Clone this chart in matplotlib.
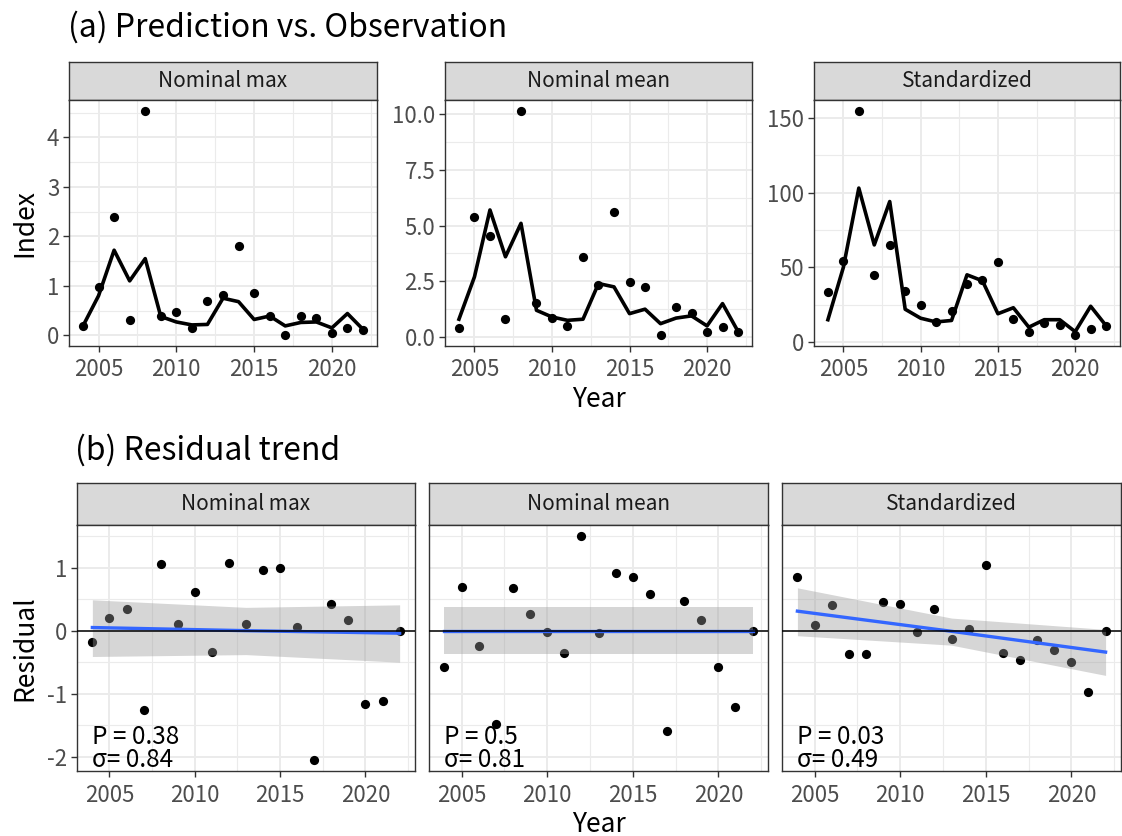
import numpy as np
import matplotlib.pyplot as plt
from matplotlib.ticker import MultipleLocator

plt.rcParams['font.family'] = ['Noto Sans CJK JP', 'DejaVu Sans']
plt.rcParams['axes.unicode_minus'] = False

# Data
years = [2004, 2005, 2006, 2007, 2008, 2009, 2010, 2011, 2012, 2013,
         2014, 2015, 2016, 2017, 2018, 2019, 2020, 2021, 2022]
panels = ["Nominal max", "Nominal mean", "Standardized"]

obs_max = [0.19, 0.97, 2.40, 0.30, 4.53, 0.39, 0.48, 0.15, 0.70, 0.81,
           1.80, 0.85, 0.40, 0.01, 0.40, 0.34, 0.04, 0.14, 0.11]
pred_max = [0.19, 0.80, 1.72, 1.10, 1.55, 0.38, 0.27, 0.21, 0.22, 0.75,
            0.68, 0.32, 0.39, 0.19, 0.26, 0.27, 0.15, 0.44, 0.12]
obs_mean = [0.40, 5.37, 4.51, 0.81, 10.13, 1.52, 0.85, 0.48, 3.57, 2.34,
            5.61, 2.45, 2.24, 0.10, 1.37, 1.07, 0.24, 0.43, 0.21]
pred_mean = [0.80, 2.70, 5.70, 3.60, 5.10, 1.20, 0.90, 0.75, 0.80, 2.40,
             2.25, 1.05, 1.25, 0.60, 0.85, 0.95, 0.50, 1.50, 0.25]
obs_std = [33.6, 54.0, 154.4, 44.9, 65.0, 34.4, 24.7, 13.6, 20.7, 39.1,
           41.8, 53.6, 15.8, 6.7, 12.9, 11.6, 4.9, 9.1, 11.1]
pred_std = [15, 50, 103, 65, 94, 22, 16, 13.5, 14.5, 45,
            41, 19, 23, 10, 15, 15, 7, 24, 11]

resid_max = [-0.18, 0.20, 0.34, -1.26, 1.06, 0.10, 0.61, -0.34, 1.07, 0.10,
             0.97, 1.00, 0.06, -2.05, 0.42, 0.17, -1.17, -1.11, 0.0]
resid_mean = [-0.57, 0.69, -0.24, -1.48, 0.67, 0.26, -0.02, -0.35, 1.50, -0.04,
              0.91, 0.85, 0.58, -1.60, 0.47, 0.17, -0.58, -1.21, 0.0]
resid_std = [0.85, 0.09, 0.40, -0.37, -0.37, 0.46, 0.43, -0.02, 0.34, -0.13,
             0.03, 1.05, -0.36, -0.46, -0.15, -0.30, -0.49, -0.98, 0.0]

# linear trend and its confidence band at start / middle / end year
trend_years = [2004, 2013, 2022]
trend_fit = [[0.05, 0.0, -0.04], [0.0, 0.0, 0.0], [0.31, -0.01, -0.34]]
band_lo = [[-0.41, -0.38, -0.50], [-0.37, -0.37, -0.37], [-0.08, -0.23, -0.71]]
band_hi = [[0.49, 0.37, 0.41], [0.37, 0.37, 0.37], [0.68, 0.20, 0.02]]
p_values = ["0.38", "0.5", "0.03"]
sigmas = ["0.84", "0.81", "0.49"]

observed = [obs_max, obs_mean, obs_std]
predicted = [pred_max, pred_mean, pred_std]
residuals = [resid_max, resid_mean, resid_std]
y_major = [1, 2.5, 50]

W, H = 1122, 836
fig = plt.figure(figsize=(W / 100, H / 100), dpi=100)


def px_axes(left, top, right, bottom):
    return fig.add_axes([left / W, 1 - bottom / H, (right - left) / W, (bottom - top) / H])


def style(ax, major_y):
    ax.set_facecolor('white')
    for s in ax.spines.values():
        s.set_color('#333333')
        s.set_linewidth(1.0)
    ax.set_xlim(2003.1, 2022.9)
    ax.xaxis.set_major_locator(MultipleLocator(5))
    ax.xaxis.set_minor_locator(MultipleLocator(2.5))
    ax.yaxis.set_major_locator(MultipleLocator(major_y))
    ax.yaxis.set_minor_locator(MultipleLocator(major_y / 2))
    ax.grid(which='major', color='#EBEBEB', linewidth=1.4, zorder=0)
    ax.grid(which='minor', color='#EBEBEB', linewidth=0.8, zorder=0)
    ax.set_axisbelow(True)
    ax.tick_params(which='major', length=4, width=1, color='#333333',
                   labelcolor='#4D4D4D', labelsize=16, pad=3)
    ax.tick_params(axis='x', which='major', pad=5)
    ax.tick_params(which='minor', length=0)


def strip(left, top, right, bottom, label):
    s = px_axes(left, top, right, bottom)
    s.set_facecolor('#D9D9D9')
    s.set_xticks([])
    s.set_yticks([])
    for sp in s.spines.values():
        sp.set_color('#333333')
        sp.set_linewidth(1.0)
    s.text(0.5, 0.5, label, ha='center', va='center', fontsize=15, color='#1A1A1A',
           transform=s.transAxes)


# (a) Prediction vs. Observation
top_x = [(69, 377), (445, 752), (814, 1120)]
for i, (l, r) in enumerate(top_x):
    strip(l, 62, r, 100, panels[i])
    ax = px_axes(l, 100, r, 346)
    style(ax, y_major[i])
    ax.plot(years, predicted[i], color='black', linewidth=2.6, zorder=3)
    ax.scatter(years, observed[i], s=44, color='black', zorder=4, linewidths=0)
    lo, hi = min(observed[i] + predicted[i]), max(observed[i] + predicted[i])
    pad = (hi - lo) * 0.05
    ax.set_ylim(lo - pad, hi + pad)
    if i == 0:
        ax.set_ylabel("Index", fontsize=19, labelpad=6)
    if i == 1:
        ax.set_xlabel("Year", fontsize=19, labelpad=3)

fig.text(68 / W, 1 - 27 / H, "(a) Prediction vs. Observation", fontsize=23,
         ha='left', va='center')

# (b) Residual trend
bot_x = [(77, 415), (429, 768), (782, 1121)]
allres = resid_max + resid_mean + resid_std
rlo, rhi = min(allres), max(allres)
rpad = (rhi - rlo) * 0.05
for i, (l, r) in enumerate(bot_x):
    strip(l, 483, r, 525, panels[i])
    ax = px_axes(l, 525, r, 771)
    style(ax, 1)
    ax.set_ylim(rlo - rpad, rhi + rpad)
    ax.scatter(years, residuals[i], s=44, color='black', zorder=2, linewidths=0)
    ax.fill_between(trend_years, band_lo[i], band_hi[i], color='#999999',
                    alpha=0.4, linewidth=0, zorder=3)
    ax.plot(trend_years, trend_fit[i], color='#3366FF', linewidth=2.4, zorder=4)
    ax.axhline(0, color='black', linewidth=1.1, zorder=5)
    ax.text(0.045, 0.085, "P = " + p_values[i], transform=ax.transAxes,
            fontsize=17.5, ha='left', va='bottom', color='black', zorder=6)
    ax.text(0.045, -0.01, "σ= " + sigmas[i], transform=ax.transAxes,
            fontsize=17.5, ha='left', va='bottom', color='black', zorder=6)
    if i == 0:
        ax.set_ylabel("Residual", fontsize=19, labelpad=6)
    else:
        ax.tick_params(axis='y', which='both', length=0, labelleft=False)
    if i == 1:
        ax.set_xlabel("Year", fontsize=19, labelpad=3)

fig.text(75 / W, 1 - 450 / H, "(b) Residual trend", fontsize=23,
         ha='left', va='center')

fig.savefig("out.png", dpi=100)
